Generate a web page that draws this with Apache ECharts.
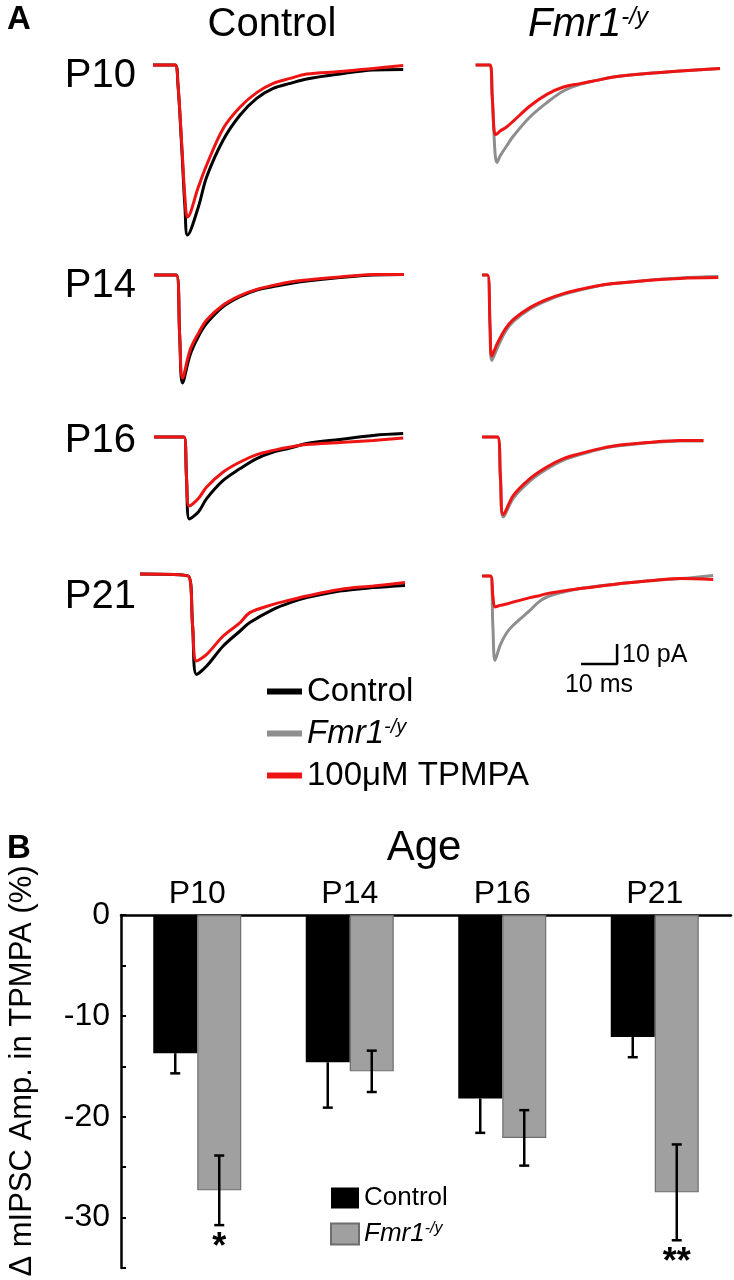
<!DOCTYPE html>
<html>
<head>
<meta charset="utf-8">
<script src="https://cdn.jsdelivr.net/npm/echarts@6/dist/echarts.min.js"></script>
<style>
  html, body { margin: 0; padding: 0; background: #fff; }
  #chart { width: 734px; height: 1280px; }
</style>
</head>
<body>
<div id="chart"></div>
<script>
// ---- panel A: averaged mIPSC traces (time in ms, current in pA) ----
const p10CtlTime = [0, 6.1, 6.9, 8.0, 8.9, 9.6, 12.6, 14.9, 19.5, 24.2, 28.8, 33.4, 38.1, 42.7, 51.9, 61.2, 69.5]
const p10CtlControl = [0, 0, -9, -42, -72, -85, -71, -56, -37.5, -25, -16.7, -11.7, -9.2, -7, -4.5, -2.5, -2.2]
const p10CtlTpmpa = [0, 0, -9, -40, -67, -76, -61, -50, -31.7, -21, -13.8, -9.2, -6.7, -4.5, -3.3, -1.7, -0.3]

const p14CtlTime = [0.3, 6.5, 7.4, 8.2, 10.3, 12.6, 14.9, 19.5, 24.2, 28.8, 33.4, 38.1, 42.7, 51.9, 61.2, 69.7]
const p14CtlControl = [0, 0, -30, -54, -40, -30.8, -24.2, -15.8, -10.8, -7.5, -5.8, -4.2, -3, -1.3, 0, 0.3]
const p14CtlTpmpa = [0, 0, -30, -51.5, -37.5, -29.2, -22.5, -15, -10.3, -7.2, -5.2, -3.5, -2.5, -1, 0.3, 0.3]

const p16CtlTime = [0.3, 8.6, 9.3, 10.1, 12.6, 14.9, 19.5, 24.2, 28.8, 33.4, 38.1, 42.7, 51.9, 61.2, 69.5]
const p16CtlControl = [0, 0, -20, -41, -37.5, -30.8, -21.7, -15.8, -10.8, -7.5, -5.5, -3.3, -1.2, 0.8, 1.7]
const p16CtlTpmpa = [0, 0, -20, -34.5, -30.8, -25, -17.5, -12.5, -8.8, -6.7, -5, -3.8, -2.8, -1.7, -0.5]

const p21CtlTime = [-3.6, 9.8, 11.0, 12.1, 14.9, 19.5, 24.2, 26.9, 33.4, 38.1, 42.7, 51.9, 61.2, 70]
const p21CtlControl = [1, 0, -25, -49.2, -45, -35, -27.5, -23.3, -16.7, -13.3, -10.8, -7.5, -5.8, -4.7]
const p21CtlTpmpa = [1, 0, -25, -42.5, -39.2, -30, -23.3, -18.3, -14.2, -12, -10, -6.7, -5, -3.3]

const p10FmrTime = [1.0, 5.0, 5.6, 6.4, 6.9, 7.8, 9.6, 11.5, 16.1, 20.8, 25.4, 30, 34.6, 39.3, 48.5, 57.8, 68.9]
const p10FmrFmr1 = [0, 0, -15, -44, -48.8, -45.5, -40.5, -35.5, -26, -18.8, -13, -9.7, -7.7, -6, -4.3, -3, -1.7]
const p10FmrTpmpa = [0, 0, -15, -34.7, -34.5, -33, -31, -28, -20.5, -14.7, -11, -9.3, -7.7, -6, -4.3, -3, -1.7]

const p14FmrTime = [2.8, 4.3, 5.0, 5.5, 6.9, 9.2, 11.5, 16.1, 20.8, 25.4, 30, 34.6, 39.3, 48.5, 57.8, 68.4]
const p14FmrFmr1 = [0, 0, -26, -42.7, -37, -28.5, -23.2, -17, -12.8, -9.7, -7.5, -5.7, -4.3, -2.7, -1.5, -0.8]
const p14FmrTpmpa = [0, 0, -25, -40.5, -34.7, -27.2, -22.2, -16.3, -12.2, -9.3, -7.2, -5.5, -4.3, -2.7, -1.7, -1.3]

const p16FmrTime = [2.8, 7.1, 7.9, 8.7, 11.5, 16.1, 20.8, 25.4, 30, 34.6, 39.3, 48.5, 57.8, 64.3]
const p16FmrFmr1 = [0, 0, -21, -40, -30.5, -22, -16, -11.5, -8.8, -6.5, -4.8, -3, -2, -2]
const p16FmrTpmpa = [0, 0, -20, -38.8, -29.2, -20.8, -15, -10.8, -8.3, -6.2, -4.5, -2.8, -1.7, -1.7]

const p21FmrTime = [2.8, 5.1, 5.8, 6.4, 7.8, 9.6, 11.5, 16.1, 18.4, 20.8, 25.4, 30, 39.3, 48.5, 57.8, 67]
const p21FmrFmr1 = [0, 0, -25, -42.2, -34.7, -28.5, -24.5, -17.2, -13.2, -10.5, -8, -6.3, -4.2, -2.5, -1.3, 0.3]
const p21FmrTpmpa = [0, 0, -10, -15.5, -14.7, -14, -13, -10.8, -10, -8.8, -7.5, -6.3, -4.2, -2.5, -1.3, -1.8]

// scale bar: 10 ms / 10 pA, anchored in the P21 Fmr1 panel
const scaleBarMs = 10
const scaleBarPa = 10
const scaleBarAt = [30.3, -44]

// ---- panel B: change of mIPSC amplitude in TPMPA (%) ----
const ages = ['P10', 'P14', 'P16', 'P21']
const controlAmp = [-13.7, -14.6, -18.2, -12.1]
const controlErr = [2.0, 4.5, 3.4, 2.0]
const fmr1Amp = [-27.3, -15.5, -22.1, -27.5]
const fmr1Err = [3.45, 2.05, 2.75, 4.75]
const signif = ['*', '', '', '**']

// layout
const FONT = 'Liberation Sans'
const MS_PX = 3.6
const PA_PX = 2
const T_MIN = -5, T_MAX = 71
const I_MIN = -90, I_MAX = 10
const colX = [153, 472] // pixel x of t = 0
const rowY = [65, 275, 437, 576] // pixel y of 0 pA
const BAR_W = 44

const RED = '#ee1414'
const GRAY_LINE = '#8e8e8e'

const traces = [
  { row: 0, col: 0, t: p10CtlTime, base: p10CtlControl, tp: p10CtlTpmpa },
  { row: 1, col: 0, t: p14CtlTime, base: p14CtlControl, tp: p14CtlTpmpa },
  { row: 2, col: 0, t: p16CtlTime, base: p16CtlControl, tp: p16CtlTpmpa },
  { row: 3, col: 0, t: p21CtlTime, base: p21CtlControl, tp: p21CtlTpmpa },
  { row: 0, col: 1, t: p10FmrTime, base: p10FmrFmr1, tp: p10FmrTpmpa },
  { row: 1, col: 1, t: p14FmrTime, base: p14FmrFmr1, tp: p14FmrTpmpa },
  { row: 2, col: 1, t: p16FmrTime, base: p16FmrFmr1, tp: p16FmrTpmpa },
  { row: 3, col: 1, t: p21FmrTime, base: p21FmrFmr1, tp: p21FmrTpmpa },
]

const grids = []
const xAxes = []
const yAxes = []
const series = []

const pairs = (t, v) => t.map((x, i) => [x, v[i]])

traces.forEach((tr, k) => {
  grids.push({
    left: colX[tr.col] + T_MIN * MS_PX,
    top: rowY[tr.row] - I_MAX * PA_PX,
    width: (T_MAX - T_MIN) * MS_PX,
    height: (I_MAX - I_MIN) * PA_PX,
  })
  xAxes.push({ gridIndex: k, type: 'value', min: T_MIN, max: T_MAX, show: false })
  yAxes.push({ gridIndex: k, type: 'value', min: I_MIN, max: I_MAX, show: false })

  const baseColor = tr.col === 0 ? '#000' : GRAY_LINE
  const lineCommon = {
    type: 'line',
    xAxisIndex: k,
    yAxisIndex: k,
    showSymbol: false,
    smooth: 0.35,
    silent: true,
  }
  series.push({
    ...lineCommon,
    name: tr.col === 0 ? 'Control trace' : 'Fmr1 trace',
    data: pairs(tr.t, tr.base),
    itemStyle: { color: baseColor },
    lineStyle: { color: baseColor, width: 3 },
    z: 2,
  })
  series.push({
    ...lineCommon,
    name: '100μM TPMPA',
    data: pairs(tr.t, tr.tp),
    itemStyle: { color: RED },
    lineStyle: { color: RED, width: 3 },
    z: 3,
  })
})

// scale bar
series.push({
  type: 'line',
  xAxisIndex: 7,
  yAxisIndex: 7,
  showSymbol: false,
  silent: true,
  data: [
    [scaleBarAt[0], scaleBarAt[1]],
    [scaleBarAt[0] + scaleBarMs, scaleBarAt[1]],
    [scaleBarAt[0] + scaleBarMs, scaleBarAt[1] + scaleBarPa],
  ],
  lineStyle: { color: '#000', width: 2.5 },
})

// panel B grid
const B = grids.length
grids.push({ left: 121, top: 915, width: 610, height: 353 })
xAxes.push({
  gridIndex: B,
  type: 'category',
  position: 'top',
  data: ages,
  axisLine: { lineStyle: { color: '#000', width: 2.5 } },
  axisTick: { show: false },
  axisLabel: { color: '#000', fontSize: 32, fontFamily: FONT, margin: 5 },
})
yAxes.push({
  gridIndex: B,
  type: 'value',
  min: -35,
  max: 0,
  interval: 5,
  axisLine: { show: true, lineStyle: { color: '#000', width: 2.5 } },
  axisTick: { show: true, inside: true, length: 5, lineStyle: { color: '#000', width: 2 } },
  splitLine: { show: false },
  axisLabel: {
    color: '#000',
    fontSize: 32,
    fontFamily: FONT,
    margin: 11,
    formatter: (v) => (v % 10 === 0 ? String(v) : ''),
  },
})

series.push({
  name: 'Control',
  type: 'bar',
  xAxisIndex: B,
  yAxisIndex: B,
  data: controlAmp,
  barWidth: BAR_W,
  barGap: '0%',
  itemStyle: { color: '#000' },
  silent: true,
})
series.push({
  name: 'Fmr1-/y',
  type: 'bar',
  xAxisIndex: B,
  yAxisIndex: B,
  data: fmr1Amp,
  barWidth: BAR_W,
  barGap: '0%',
  itemStyle: { color: '#a0a0a0', borderColor: '#6e6e6e', borderWidth: 1.2 },
  silent: true,
})

// error bars (+ significance stars) through the axes
const errData = ages
  .map((a, i) => [i, controlAmp[i] - controlErr[i], controlAmp[i], -1])
  .concat(ages.map((a, i) => [i, fmr1Amp[i] - fmr1Err[i], fmr1Amp[i] + fmr1Err[i], 1]))

series.push({
  type: 'custom',
  xAxisIndex: B,
  yAxisIndex: B,
  data: errData,
  silent: true,
  z: 5,
  renderItem: (params, api) => {
    const cat = api.value(0)
    const side = api.value(3)
    const lo = api.coord([cat, api.value(1)])
    const hi = api.coord([cat, api.value(2)])
    const x = lo[0] + (side * BAR_W) / 2
    const cap = 5
    const stroke = { stroke: '#000', lineWidth: 2.5 }
    const children = [
      { type: 'line', shape: { x1: x, y1: hi[1], x2: x, y2: lo[1] }, style: stroke },
      { type: 'line', shape: { x1: x - cap, y1: lo[1], x2: x + cap, y2: lo[1] }, style: stroke },
    ]
    if (side === 1) {
      children.push({ type: 'line', shape: { x1: x - cap, y1: hi[1], x2: x + cap, y2: hi[1] }, style: stroke })
      const star = signif[cat]
      if (star) {
        children.push({
          type: 'text',
          x: x,
          y: lo[1] + 5,
          style: { text: star, fill: '#000', fontSize: 36, fontWeight: 'bold', fontFamily: FONT, align: 'center', verticalAlign: 'top' },
        })
      }
    }
    return { type: 'group', children }
  },
})

const fmrRich = (size, supSize) => ({
  it: { fontStyle: 'italic', fontSize: size, fontFamily: FONT, color: '#000' },
  sup: { fontStyle: 'italic', fontSize: supSize, fontFamily: FONT, color: '#000', verticalAlign: 'top' },
})

const text = (x, y, str, size, extra) => ({
  type: 'text',
  x,
  y,
  silent: true,
  ...(extra && extra.rotation ? { rotation: extra.rotation } : {}),
  style: {
    text: str,
    fill: '#000',
    fontSize: size,
    fontFamily: FONT,
    fontWeight: (extra && extra.bold) ? 'bold' : 'normal',
    align: (extra && extra.align) || 'center',
    verticalAlign: (extra && extra.valign) || 'middle',
    rich: extra && extra.rich,
  },
})

const rowLabelY = [76, 286, 441, 597]

const option = {
  animation: false,
  backgroundColor: '#fff',
  textStyle: { fontFamily: FONT },
  grid: grids,
  xAxis: xAxes,
  yAxis: yAxes,
  legend: [
    {
      data: ['Control trace', 'Fmr1 trace', '100μM TPMPA'],
      orient: 'vertical',
      left: 267,
      top: 675,
      padding: 0,
      icon: 'rect',
      itemWidth: 35,
      itemHeight: 6,
      itemGap: 9,
      selectedMode: false,
      lineStyle: { width: 6 },
      formatter: (name) => {
        if (name === 'Control trace') return 'Control'
        if (name === 'Fmr1 trace') return '{it|Fmr1}{sup|-/y}'
        return name
      },
      textStyle: { fontSize: 33, color: '#000', fontFamily: FONT, rich: fmrRich(33, 20) },
    },
    {
      data: ['Control', 'Fmr1-/y'],
      orient: 'vertical',
      left: 330,
      top: 1185,
      padding: 0,
      icon: 'rect',
      itemWidth: 28,
      itemHeight: 21,
      itemGap: 10,
      selectedMode: false,
      formatter: (name) => (name === 'Fmr1-/y' ? '{it|Fmr1}{sup|-/y}' : name),
      textStyle: { fontSize: 26, color: '#000', fontFamily: FONT, rich: fmrRich(26, 16) },
    },
  ],
  graphic: {
    elements: [
      text(7, 3, 'A', 33, { bold: true, align: 'left', valign: 'top' }),
      text(272, 25, 'Control', 40),
      text(588, 25, '{it|Fmr1}{sup|-/y}', 40, { rich: fmrRich(40, 24) }),
      ...ages.map((a, i) => text(136, rowLabelY[i], a, 40, { align: 'right' })),
      text(622, 655, '10 pA', 25, { align: 'left' }),
      text(599, 685, '10 ms', 25),
      text(7, 832, 'B', 33, { bold: true, align: 'left', valign: 'top' }),
      text(424, 848, 'Age', 42),
      text(22, 1071, 'Δ mIPSC Amp. in TPMPA (%)', 31, { rotation: Math.PI / 2 }),
    ],
  },
  series,
}

const chart = echarts.init(document.getElementById('chart'))
chart.setOption(option)
window.addEventListener('resize', () => chart.resize())
</script>
</body>
</html>
